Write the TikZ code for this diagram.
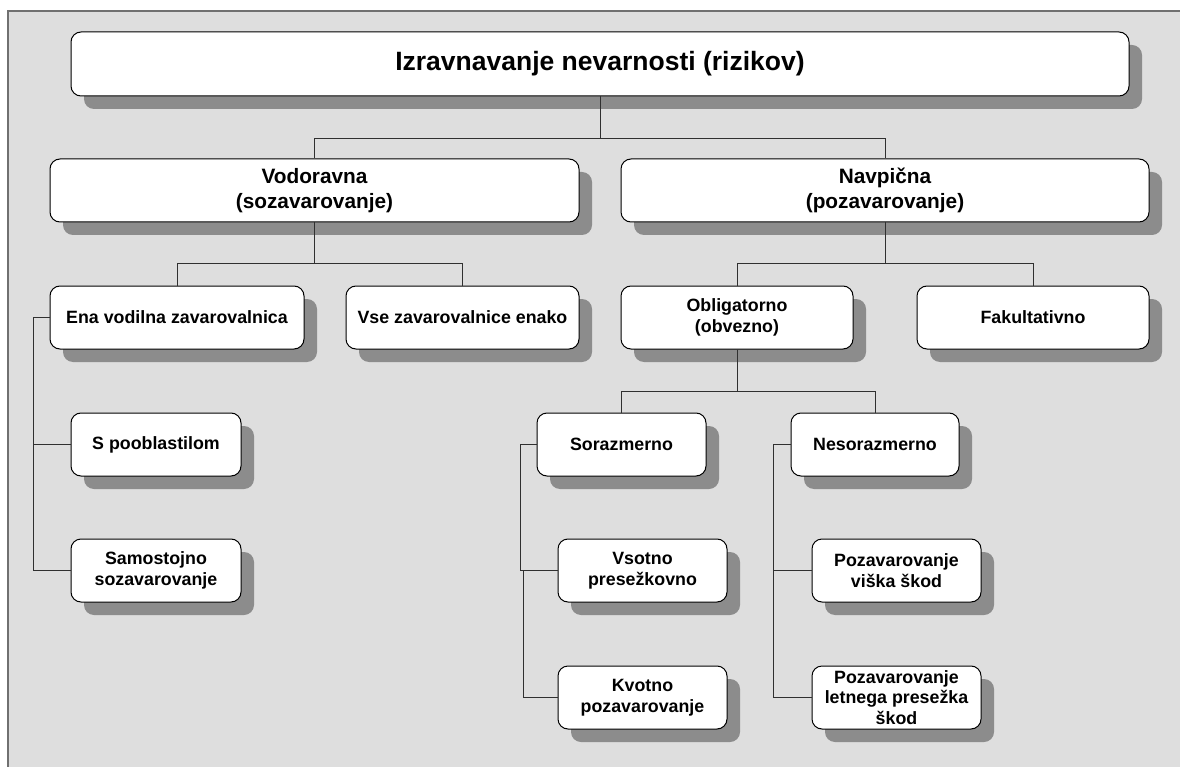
\documentclass[tikz,border=0pt]{standalone}
\usepackage{fontspec}
\setmainfont{Liberation Sans}
\usetikzlibrary{shadows}
\definecolor{canvasgray}{HTML}{DEDEDE}
\definecolor{framegray}{HTML}{707070}
\definecolor{shadegray}{HTML}{8C8C8C}
\definecolor{linkgray}{HTML}{303030}

\begin{document}
\begin{tikzpicture}[x=1pt,y=-1pt,
  box/.style={draw=black, line width=1pt, fill=white, rounded corners=10pt,
    inner sep=2pt, align=center, minimum height=63pt,
    general shadow={shadow xshift=13pt, shadow yshift=-13pt, fill=shadegray, draw=none}},
  lvlA/.style={box, font=\fontsize{26.5}{30}\selectfont\bfseries},
  lvlB/.style={box, font=\fontsize{20.8}{24.5}\selectfont\bfseries},
  lvlC/.style={box, font=\fontsize{17.8}{20.8}\selectfont\bfseries},
  link/.style={draw=linkgray, line width=0.9pt}]

\useasboundingbox (0,0) rectangle (1180,767);

% canvas with its frame on the top and left edges
\fill[canvasgray] (8,11) rectangle (1200,790);
\draw[framegray, line width=1.5pt] (8,790) -- (8,11) -- (1200,11);

% title
\node[lvlA, minimum width=1058pt, minimum height=64pt] (top) at (600,64) {Izravnavanje nevarnosti (rizikov)};

% second level
\node[lvlB, minimum width=529pt] (vod) at (314.5,190.5) {Vodoravna\\(sozavarovanje)};
\node[lvlB, minimum width=528pt] (nav) at (885,190.5) {Navpična\\(pozavarovanje)};

% third level
\node[lvlC, minimum width=254pt] (ena) at (177,317.5) {Ena vodilna zavarovalnica};
\node[lvlC, minimum width=233pt] (vse) at (462.5,317.5) {Vse zavarovalnice enako};
\node[lvlC, minimum width=232pt] (obl) at (737,317.5) {Obligatorno\\(obvezno)};
\node[lvlC, minimum width=232pt] (fak) at (1033,317.5) {Fakultativno};

% fourth level
\node[lvlC, minimum width=170pt] (spo) at (156,444.5) {S pooblastilom};
\node[lvlC, minimum width=170pt] (sam) at (156,570.5) {Samostojno\\sozavarovanje};
\node[lvlC, minimum width=169pt] (sor) at (621.5,444.5) {Sorazmerno};
\node[lvlC, minimum width=168pt] (nes) at (875,444.5) {Nesorazmerno};
\node[lvlC, minimum width=169pt] (vso) at (642.5,570.5) {Vsotno\\presežkovno};
\node[lvlC, minimum width=169pt] (kvo) at (642.5,697.5) {Kvotno\\pozavarovanje};
\node[lvlC, minimum width=169pt] (pvs) at (896.5,570.5) {Pozavarovanje\\viška škod};
\node[lvlC, minimum width=169pt] (plt) at (896.5,697.5) {Pozavarovanje\\letnega presežka\\škod};

% tree connectors
\draw[link] (top.south) -- ++(0,42) -| (vod.north);
\draw[link] (top.south) -- ++(0,42) -| (nav.north);
\draw[link] (vod.south) -- ++(0,41) -| (ena.north);
\draw[link] (vod.south) -- ++(0,41) -| (vse.north);
\draw[link] (nav.south) -- ++(0,41) -| (obl.north);
\draw[link] (nav.south) -- ++(0,41) -| (fak.north);
\draw[link] (obl.south) -- ++(0,42) -| (sor.north);
\draw[link] (obl.south) -- ++(0,42) -| (nes.north);

% side connectors
\draw[link] (ena.west) -- ++(-16,0) |- (spo.west);
\draw[link] (ena.west) -- ++(-16,0) |- (sam.west);
\draw[link] (sor.west) -- ++(-16,0) |- (vso.west);
\draw[link] (kvo.west) -- ++(-34,0) |- ([xshift=-37pt]vso.west);
\draw[link] (nes.west) -- ++(-17,0) |- (pvs.west);
\draw[link] (nes.west) -- ++(-17,0) |- (plt.west);
\end{tikzpicture}
\end{document}
